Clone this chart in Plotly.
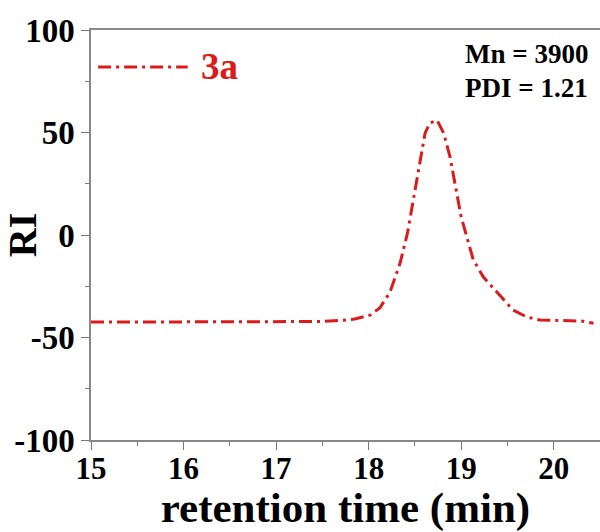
import plotly.graph_objects as go

# data
retention_time = [15.0, 15.5, 16.0, 16.5, 17.0, 17.5, 17.69, 17.85, 18.02, 18.12, 18.23, 18.34, 18.42,
                  18.47, 18.52, 18.56, 18.61, 18.66, 18.74, 18.81, 18.88, 18.94, 19.0, 19.07,
                  19.13, 19.24, 19.39, 19.56, 19.71, 19.85, 20.0, 20.2, 20.3, 20.43]
ri = [-42.5, -42.5, -42.5, -42.5, -42.4, -42.2, -41.7, -41.0, -39.0, -35.6, -28.0, -13.7, 1.0,
      13.7, 28.0, 38.0, 49.7, 54.6, 56.0, 49.7, 38.0, 23.4, 8.8, -2.4,
      -12.0, -20.5, -28.0, -36.6, -40.0, -41.5, -41.6, -41.7, -42.0, -43.0]
series_name = "3a"
info_lines = ["Mn = 3900", "PDI = 1.21"]
x_ticks = [15, 16, 17, 18, 19, 20]
y_ticks = [-100, -50, 0, 50, 100]
y_tick_labels = ["-100", "-50", "0", "50", "100"]

RED = "#dd1a1a"
FONT = "Liberation Serif"
DASH = "13px,5px,3px,5px"

fig = go.Figure()
fig.add_trace(go.Scatter(x=retention_time, y=ri, mode="lines", name=series_name,
                         line=dict(color=RED, width=3, dash=DASH), showlegend=False))

fig.update_layout(
    width=600, height=532,
    margin=dict(l=91, r=0, t=30, b=92),
    paper_bgcolor="white", plot_bgcolor="white",
    font=dict(family=FONT, color="black"),
    xaxis=dict(range=[15, 20.5], tickvals=x_ticks, ticks="outside", ticklen=8, tickwidth=1,
               tickcolor="#777", showline=True, linecolor="#888", linewidth=1.5, mirror=True,
               showgrid=False, zeroline=False, automargin=False, ticklabelstandoff=-8,
               minor=dict(dtick=0.5, ticks="outside", ticklen=4, tickcolor="#777"),
               tickfont=dict(family=FONT, size=31, color="black", weight="bold"),
               title=dict(text="<b>retention time (min)</b>", font=dict(family=FONT, size=43), standoff=0)),
    yaxis=dict(range=[-100, 100], tickvals=y_ticks, ticktext=y_tick_labels, ticks="outside",
               ticklen=8, tickwidth=1,
               tickcolor="#777", showline=True, linecolor="#888", linewidth=1.5,
               showgrid=False, zeroline=False, automargin=False,
               minor=dict(dtick=25, ticks="outside", ticklen=4, tickcolor="#777"),
               tickfont=dict(family=FONT, size=33, color="black", weight="bold"),
               title=dict(text="<b>RI</b>", font=dict(family=FONT, size=40), standoff=0)),
)

# legend sample
fig.add_shape(type="line", xref="paper", yref="paper", x0=0.014, x1=0.19, y0=0.91, y1=0.91,
              line=dict(color=RED, width=3, dash=DASH))
fig.add_annotation(xref="paper", yref="paper", x=0.212, y=0.91, xanchor="left", yanchor="middle",
                   text="<b>" + series_name + "</b>", showarrow=False,
                   font=dict(family=FONT, size=37, color=RED))
fig.add_annotation(xref="paper", yref="paper", x=0.98, y=0.941, xanchor="right", yanchor="middle",
                   text="<b>" + info_lines[0] + "</b>", showarrow=False,
                   font=dict(family=FONT, size=27, color="black"))
fig.add_annotation(xref="paper", yref="paper", x=0.98, y=0.859, xanchor="right", yanchor="middle",
                   text="<b>" + info_lines[1] + "</b>", showarrow=False,
                   font=dict(family=FONT, size=27, color="black"))

fig.write_html("out.html", config={"displayModeBar": False},
               post_script="document.body.style.margin='0px';")
